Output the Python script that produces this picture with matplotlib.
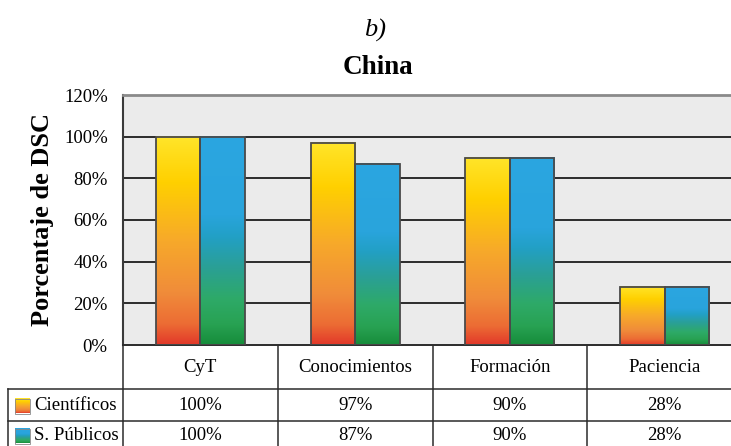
import numpy as np
import matplotlib
matplotlib.use("Agg")
import matplotlib.pyplot as plt
from matplotlib.colors import LinearSegmentedColormap
from matplotlib.patches import Rectangle
from matplotlib.lines import Line2D

plt.rcParams['font.family'] = ['Liberation Serif', 'DejaVu Serif']

categories = ["CyT", "Conocimientos", "Formación", "Paciencia"]
cientificos = [100, 97, 90, 28]
publicos = [100, 87, 90, 28]
series_names = ["Científicos", "S. Públicos"]
yticks = [0, 20, 40, 60, 80, 100, 120]

# top -> bottom colour ramps for each series
warm = LinearSegmentedColormap.from_list("warm", [
    (0.0, "#ffe52a"), (0.22, "#ffd000"), (0.5, "#f7a92a"),
    (0.75, "#f08c3a"), (0.9, "#ec6c34"), (1.0, "#e2382a")])
cool = LinearSegmentedColormap.from_list("cool", [
    (0.0, "#2ba6e1"), (0.38, "#29a4dc"), (0.48, "#22a0c6"),
    (0.62, "#2a9f98"), (0.78, "#2eaa68"), (0.9, "#28a253"), (1.0, "#168c3a")])

W, H = 731, 446
fig = plt.figure(figsize=(W / 100, H / 100), dpi=100)
fig.patch.set_facecolor("white")

ax = fig.add_axes([123 / W, 101 / H, (742 - 123) / W, 250 / H])
ax.set_facecolor("#ebebeb")

grad = np.linspace(0, 1, 256).reshape(-1, 1)
bw = 0.288


def gradient_bar(x0, height, cmap):
    ax.imshow(grad, cmap=cmap, aspect="auto", extent=(x0, x0 + bw, 0, height),
              origin="upper", zorder=2, interpolation="bilinear")
    ax.add_patch(Rectangle((x0, 0), bw, height, fill=False,
                           edgecolor="#4a4a4a", lw=1.3, zorder=3))


for i, (a, b) in enumerate(zip(cientificos, publicos)):
    gradient_bar(i - bw, a, warm)
    gradient_bar(i, b, cool)

ax.set_xlim(-0.5, len(categories) - 0.5)
ax.set_ylim(0, 120)

for yv in yticks[1:-1]:
    ax.axhline(yv, color="#2b2b2b", lw=1.4, zorder=1)

ax.set_yticks(yticks)
ax.set_yticklabels([f"{v}%" for v in yticks], fontsize=13.5)
ax.tick_params(axis="y", length=0, pad=11)
ax.set_xticks([])
ax.spines["right"].set_visible(False)
ax.spines["top"].set_color("#8a8a8a")
ax.spines["top"].set_linewidth(2)
ax.spines["left"].set_color("#3a3a3a")
ax.spines["left"].set_linewidth(1.5)
ax.spines["bottom"].set_color("#2b2b2b")
ax.spines["bottom"].set_linewidth(1.4)

ax.set_ylabel("Porcentaje de DSC", fontsize=19, fontweight="bold", labelpad=7)

fig.text(375 / W, 1 - 30 / H, "b)", fontsize=19, style="italic",
         ha="center", va="center")
fig.text(378 / W, 1 - 68 / H, "China", fontsize=19.5, fontweight="bold",
         ha="center", va="center")

# data table below the plot
ov = fig.add_axes([0, 0, 1, 1], zorder=5)
ov.set_xlim(0, W)
ov.set_ylim(H, 0)
ov.axis("off")


def xpix(xd):
    return ax.transData.transform((xd, 0))[0]


line_kw = dict(color="#2b2b2b", lw=1.1)
row_top, row1, row2, row_bot = 346, 389, 421, 446
ov.add_line(Line2D([8, W], [row1, row1], **line_kw))
ov.add_line(Line2D([8, W], [row2, row2], **line_kw))
ov.add_line(Line2D([8, 8], [row1, row_bot], **line_kw))
for b in np.arange(-0.5, len(categories) - 0.5, 1.0):
    xb = xpix(b)
    ov.add_line(Line2D([xb, xb], [row_top, row_bot], **line_kw))

for i, cat in enumerate(categories):
    xc = xpix(i)
    ov.text(xc, 368, cat, fontsize=13.5, ha="center", va="center")
    ov.text(xc, 406, f"{cientificos[i]}%", fontsize=13.5, ha="center", va="center")
    ov.text(xc, 436, f"{publicos[i]}%", fontsize=13.5, ha="center", va="center")

for name, cmap, yc in [(series_names[0], warm, 406), (series_names[1], cool, 436)]:
    ov.imshow(grad, cmap=cmap, aspect="auto", extent=(15, 30, yc + 7.5, yc - 7.5),
              origin="upper", interpolation="bilinear")
    ov.add_patch(Rectangle((15, yc - 7.5), 15, 15, fill=False,
                           edgecolor="#888888", lw=0.6))
    ov.text(34, yc, name, fontsize=13.5, ha="left", va="center")

ov.set_xlim(0, W)
ov.set_ylim(H, 0)

fig.savefig("out.png", dpi=100)
